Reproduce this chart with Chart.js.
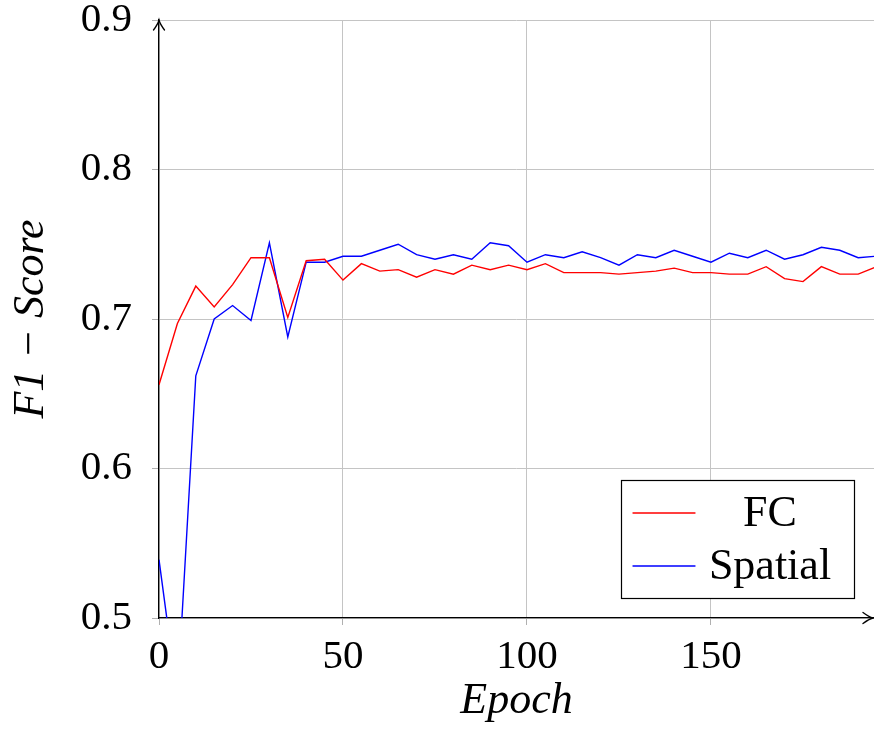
<!DOCTYPE html>
<html>
<head>
<meta charset="utf-8">
<script src="https://cdn.jsdelivr.net/npm/chart.js@4.4.1/dist/chart.umd.min.js"></script>
<style>
  html, body { margin: 0; padding: 0; background: #fff; }
  #wrap { width: 874px; height: 731px; }
</style>
</head>
<body>
<div id="wrap"><canvas id="chart" width="874" height="731"></canvas></div>
<script>
const epochs = [0, 5, 10, 15, 20, 25, 30, 35, 40, 45, 50, 55, 60, 65, 70, 75, 80, 85, 90, 95,
    100, 105, 110, 115, 120, 125, 130, 135, 140, 145, 150, 155, 160, 165, 170, 175, 180, 185, 190, 195];

const fcScores = [0.656, 0.697, 0.722, 0.708, 0.723, 0.741, 0.741, 0.701, 0.739, 0.740,
    0.726, 0.737, 0.732, 0.733, 0.728, 0.733, 0.730, 0.736, 0.733, 0.736,
    0.733, 0.737, 0.731, 0.731, 0.731, 0.730, 0.731, 0.732, 0.734, 0.731,
    0.731, 0.730, 0.730, 0.735, 0.727, 0.725, 0.735, 0.730, 0.730, 0.735];

const spatialScores = [0.539, 0.447, 0.662, 0.700, 0.709, 0.699, 0.751, 0.688, 0.738, 0.738,
    0.742, 0.742, 0.746, 0.750, 0.743, 0.740, 0.743, 0.740, 0.751, 0.749,
    0.738, 0.743, 0.741, 0.745, 0.741, 0.736, 0.743, 0.741, 0.746, 0.742,
    0.738, 0.744, 0.741, 0.746, 0.740, 0.743, 0.748, 0.746, 0.741, 0.742];

const xTicks = [0, 50, 100, 150];
const yTicks = [0.5, 0.6, 0.7, 0.8, 0.9];

const serif = "'Liberation Serif', 'DejaVu Serif', serif";

// axis arrows + boxed legend drawn on top of the plot
const decorations = {
    id: "decorations",
    afterDraw(chart) {
        const { ctx, chartArea } = chart;
        const { left, right, top, bottom } = chartArea;
        ctx.save();
        ctx.strokeStyle = "#000";
        ctx.lineWidth = 1.3;
        ctx.lineCap = "round";

        // y arrow
        ctx.beginPath();
        ctx.moveTo(left - 5.5, top + 10);
        ctx.quadraticCurveTo(left - 1, top + 4, left, top);
        ctx.quadraticCurveTo(left + 1, top + 4, left + 5.5, top + 10);
        ctx.stroke();

        // x arrow
        const tip = right - 1;
        ctx.beginPath();
        ctx.moveTo(tip - 10, bottom - 5.5);
        ctx.quadraticCurveTo(tip - 4, bottom - 1, tip, bottom);
        ctx.quadraticCurveTo(tip - 4, bottom + 1, tip - 10, bottom + 5.5);
        ctx.stroke();

        // legend
        const box = { x: 621, y: 480, w: 233, h: 118 };
        ctx.fillStyle = "#fff";
        ctx.fillRect(box.x, box.y, box.w, box.h);
        ctx.lineWidth = 1.2;
        ctx.strokeRect(box.x + 0.5, box.y + 0.5, box.w, box.h);

        ctx.font = "44px " + serif;
        ctx.textAlign = "center";
        ctx.textBaseline = "alphabetic";
        chart.data.datasets.forEach((ds, i) => {
            const ly = 513 + i * 53;
            ctx.strokeStyle = ds.borderColor;
            ctx.lineWidth = 1.3;
            ctx.beginPath();
            ctx.moveTo(633, ly);
            ctx.lineTo(695, ly);
            ctx.stroke();
            ctx.fillStyle = "#000";
            ctx.fillText(ds.label, 770, ly + 13);
        });
        ctx.restore();
    },
};

new Chart(document.getElementById("chart").getContext("2d"), {
    type: "line",
    data: {
        labels: epochs,
        datasets: [
            {
                label: "FC",
                data: fcScores,
                borderColor: "#ff0000",
                borderWidth: 1.4,
                pointRadius: 0,
                tension: 0,
                clip: 0,
            },
            {
                label: "Spatial",
                data: spatialScores,
                borderColor: "#0000ff",
                borderWidth: 1.4,
                pointRadius: 0,
                tension: 0,
                clip: 0,
            },
        ],
    },
    options: {
        responsive: false,
        animation: false,
        devicePixelRatio: 1,
        layout: { padding: { left: 0, top: 20, right: 0, bottom: 0 } },
        plugins: {
            legend: { display: false },
            tooltip: { enabled: false },
        },
        scales: {
            x: {
                type: "linear",
                min: 0,
                max: 194.3,
                afterBuildTicks: (scale) => { scale.ticks = xTicks.map((v) => ({ value: v })); },
                afterFit: (scale) => {
                    scale.height = 113;
                    scale.paddingLeft = 0;
                    scale.paddingRight = 0;
                },
                ticks: {
                    color: "#000",
                    font: { family: serif, size: 41 },
                    padding: 8,
                    maxRotation: 0,
                },
                grid: { color: "#c4c4c4", lineWidth: 1, tickLength: 7, tickColor: "#b0b0b0" },
                border: { color: "#000", width: 1.3 },
                title: {
                    display: true,
                    text: "Epoch",
                    color: "#000",
                    font: { family: serif, size: 44, style: "italic" },
                    padding: { top: 0, bottom: 3 },
                },
            },
            y: {
                min: 0.5,
                max: 0.9,
                afterBuildTicks: (scale) => { scale.ticks = yTicks.map((v) => ({ value: v })); },
                afterFit: (scale) => {
                    scale.width = 159;
                    scale.paddingTop = 0;
                    scale.paddingBottom = 0;
                },
                ticks: {
                    color: "#000",
                    font: { family: serif, size: 41 },
                    padding: 20,
                    callback: (v) => v.toFixed(1),
                },
                grid: { color: "#c4c4c4", lineWidth: 1, tickLength: 7, tickColor: "#b0b0b0" },
                border: { color: "#000", width: 1.3 },
                title: {
                    display: true,
                    text: "F1 − Score",
                    color: "#000",
                    font: { family: serif, size: 44, style: "italic" },
                    padding: { top: 5, bottom: 0 },
                },
            },
        },
    },
    plugins: [decorations],
});
</script>
</body>
</html>
